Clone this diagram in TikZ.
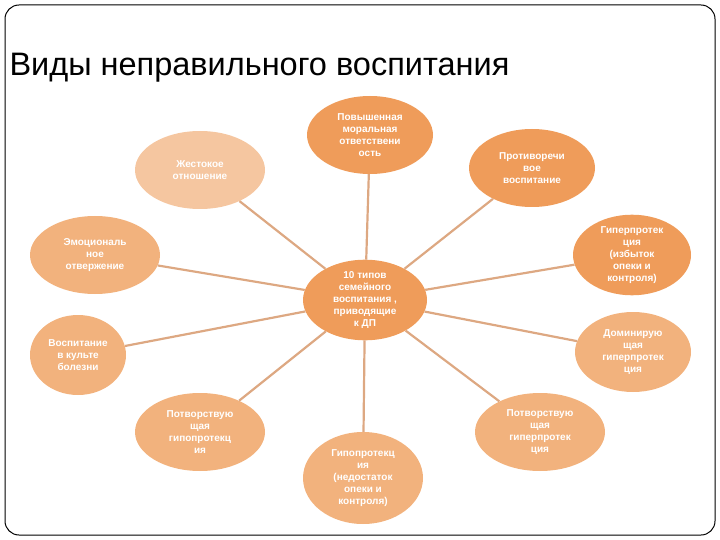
\documentclass[tikz,border=0pt]{standalone}
\usepackage{fontspec}
\setmainfont{Liberation Sans}
\usetikzlibrary{shapes.geometric}
\begin{document}
\begin{tikzpicture}[x=1pt,y=-1pt,
  bub/.style={ellipse,fill=#1,text=white,align=center,inner sep=0pt,font=\fontsize{10}{12}\selectfont\bfseries},
  link/.style={draw=linkc,line width=2.2pt}]
\definecolor{lt}{HTML}{F5C6A0}
\definecolor{md}{HTML}{F2B27D}
\definecolor{dk}{HTML}{EF9C5A}
\definecolor{linkc}{HTML}{DDA882}
\useasboundingbox (0,0) rectangle (720,540);
\draw[line width=1pt,rounded corners=14pt] (5,5) rectangle (715,535);
\node[anchor=west,font=\fontsize{32.5}{38}\selectfont] (title) at (6,68) {Виды неправильного воспитания};
\node[bub=dk,minimum width=124pt,minimum height=76pt] (c) at (365,300) {10 типов\\семейного\\воспитания ,\\приводящие\\к ДП};
\node[bub=dk,minimum width=126pt,minimum height=78pt] (n1) at (370,135) {Повышенная\\моральная\\ответствени\\ость};
\node[bub=lt,minimum width=130pt,minimum height=78pt] (n2) at (200,170) {Жестокое\\отношение};
\node[bub=dk,minimum width=126pt,minimum height=78pt] (n3) at (532,168) {Противоречи\\вое\\воспитание};
\node[bub=md,minimum width=130pt,minimum height=78pt] (n4) at (95,255) {Эмоциональ\\ное\\отвержение};
\node[bub=dk,minimum width=118pt,minimum height=80pt] (n5) at (632,255) {Гиперпротек\\ция\\(избыток\\опеки и\\контроля)};
\node[bub=md,minimum width=96pt,minimum height=80pt] (n6) at (78,355) {Воспитание\\в культе\\болезни};
\node[bub=md,minimum width=116pt,minimum height=80pt] (n7) at (633,352) {Доминирую\\щая\\гиперпротек\\ция};
\node[bub=md,minimum width=130pt,minimum height=78pt] (n8) at (200,432) {Потворствую\\щая\\гипопротекц\\ия};
\node[bub=md,minimum width=120pt,minimum height=92pt] (n9) at (363,478) {Гипопротекц\\ия\\(недостаток\\опеки и\\контроля)};
\node[bub=md,minimum width=130pt,minimum height=78pt] (n10) at (540,432) {Потворствую\\щая\\гиперпротек\\ция};
\foreach \n in {n1,n2,n3,n4,n5,n6,n7,n8,n9,n10}{\draw[link] (c) -- (\n);}
\end{tikzpicture}
\end{document}
